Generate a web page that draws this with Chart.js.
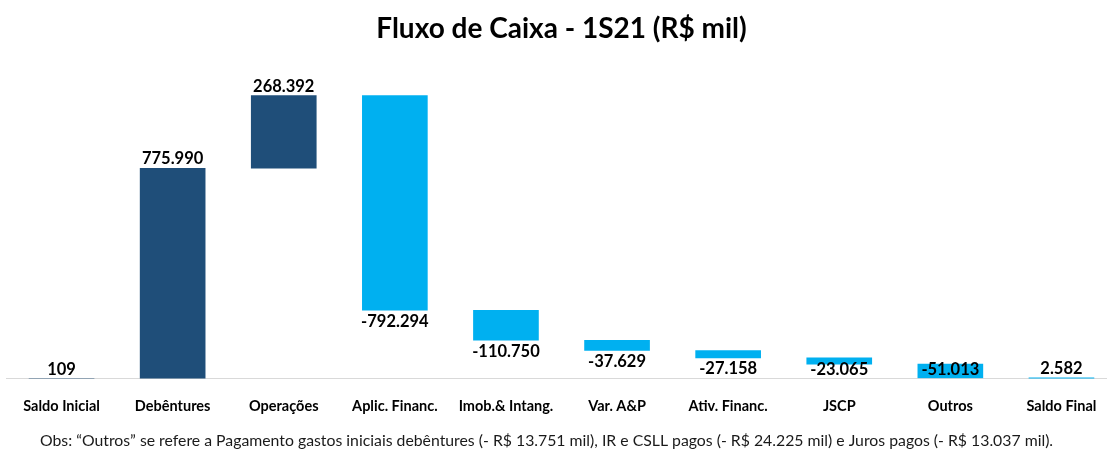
<!DOCTYPE html>
<html lang="pt-BR">
<head>
<meta charset="utf-8">
<title>Fluxo de Caixa - 1S21</title>
<script src="https://cdn.jsdelivr.net/npm/chart.js@4/dist/chart.umd.min.js"></script>
<style>
    html, body { margin: 0; padding: 0; background: #fff; overflow: hidden; }
    #wrap { width: 1118px; height: 452px; }
</style>
</head>
<body>
<div id="wrap"><canvas id="cashFlowChart"></canvas></div>
<script>
// Fluxo de Caixa - 1S21 (R$ mil) - waterfall
const categorias = ['Saldo Inicial', 'Debêntures', 'Operações', 'Aplic. Financ.', 'Imob.& Intang.',
    'Var. A&P', 'Ativ. Financ.', 'JSCP', 'Outros', 'Saldo Final'];
// variação de cada etapa (R$ mil); saldos são totais
const variacoes = [109, 775990, 268392, -792294, -110750, -37629, -27158, -23065, -51013, 2582];
const ehTotal = [true, false, false, false, false, false, false, false, false, true];
const coresBarras = ['#1F4E79', '#1F4E79', '#1F4E79', '#00B0F0', '#00B0F0',
    '#00B0F0', '#00B0F0', '#00B0F0', '#00B0F0', '#00B0F0'];
const nota = 'Obs: \u201cOutros\u201d se refere a Pagamento gastos iniciais debêntures (- R$ 13.751 mil), IR e CSLL pagos (- R$ 24.225 mil) e Juros pagos (- R$ 13.037 mil).';

const FONTE = 'Lato, "Liberation Sans", sans-serif';

// montar barras flutuantes [inicio, fim]
let acumulado = 0;
const barras = variacoes.map((v, i) => {
    if (ehTotal[i]) {
        acumulado = v;
        return [0, v];
    }
    const inicio = acumulado;
    acumulado += v;
    return [inicio, acumulado];
});

function formatar(v) {
    const s = Math.abs(v).toString().replace(/\B(?=(\d{3})+(?!\d))/g, '.');
    return (v < 0 ? '-' : '') + s;
}

// rótulos de valor: acima se positivo, abaixo se negativo
const rotulosPlugin = {
    id: 'rotulos',
    afterDatasetsDraw(chart) {
        const { ctx, chartArea } = chart;
        const meta = chart.getDatasetMeta(0);
        ctx.save();
        ctx.font = 'bold 16.5px ' + FONTE;
        ctx.fillStyle = '#000';
        ctx.textAlign = 'center';
        meta.data.forEach((bar, i) => {
            const v = variacoes[i];
            const topo = Math.min(bar.y, bar.base);
            const fundo = Math.max(bar.y, bar.base);
            if (v >= 0) {
                ctx.textBaseline = 'bottom';
                ctx.fillText(formatar(v), bar.x, topo - 1);
            } else {
                ctx.textBaseline = 'top';
                const y = Math.min(fundo + 3, chartArea.bottom - 17);
                ctx.fillText(formatar(v), bar.x, y);
            }
        });
        ctx.restore();
    }
};

// nota de rodapé
const notaPlugin = {
    id: 'nota',
    afterDraw(chart) {
        const { ctx, height } = chart;
        ctx.save();
        ctx.font = '15.8px ' + FONTE;
        ctx.fillStyle = '#1a1a1a';
        ctx.textAlign = 'left';
        ctx.textBaseline = 'middle';
        ctx.fillText(nota, 40, height - 11);
        ctx.restore();
    }
};

const ctx = document.getElementById('cashFlowChart');
new Chart(ctx, {
    type: 'bar',
    data: {
        labels: categorias,
        datasets: [{
            data: barras,
            backgroundColor: coresBarras,
            borderWidth: 0,
            barThickness: 65,
            borderSkipped: false
        }]
    },
    options: {
        responsive: true,
        maintainAspectRatio: false,
        animation: false,
        layout: { padding: { left: 6, right: 1, bottom: 18 } },
        plugins: {
            legend: { display: false },
            tooltip: { enabled: false },
            title: {
                display: true,
                text: 'Fluxo de Caixa - 1S21 (R$ mil)',
                color: '#000',
                font: { family: FONTE, size: 28, weight: 'bold', lineHeight: 1.2 },
                padding: { top: 12, bottom: 14 }
            }
        },
        scales: {
            x: {
                grid: { display: false, drawTicks: false },
                border: { display: true, color: '#d9d9d9', width: 1 },
                ticks: {
                    color: '#000',
                    padding: 19,
                    font: { family: FONTE, size: 14.5, weight: 'bold' }
                }
            },
            y: {
                display: false,
                min: 0,
                max: 1177000
            }
        }
    },
    plugins: [rotulosPlugin, notaPlugin]
});
</script>
</body>
</html>
